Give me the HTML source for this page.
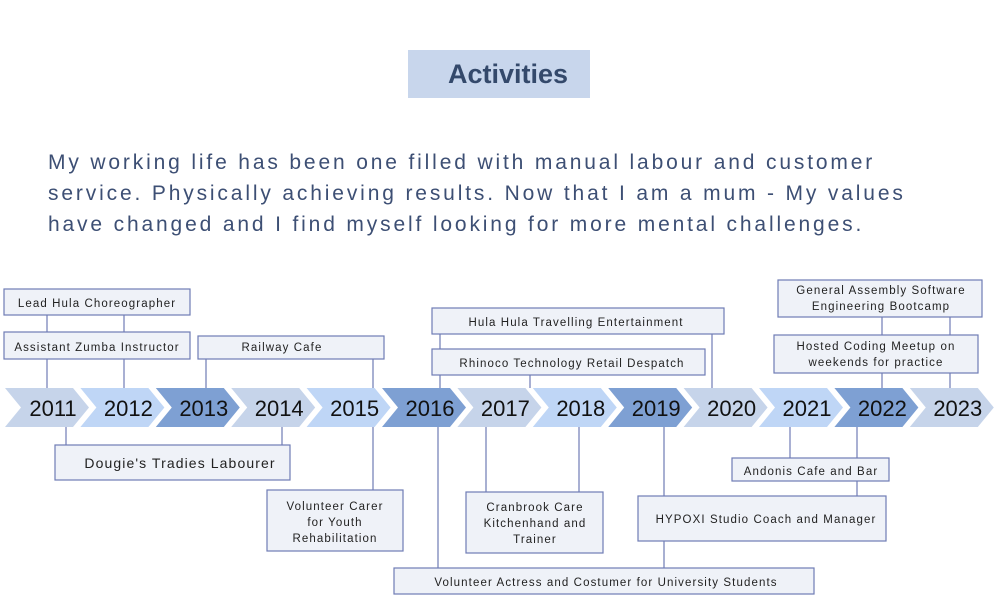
<!DOCTYPE html>
<html><head><meta charset="utf-8"><style>
html,body{margin:0;padding:0;background:#fff;width:1000px;height:600px;overflow:hidden}
svg{display:block}
.b{fill:#eff2f8;stroke:#6f7cb5;stroke-width:1.2}
.l{stroke:#6f7cb5;stroke-width:1.2}
.t{font-family:"Liberation Sans",sans-serif;font-size:11.5px;letter-spacing:1.1px;fill:#222;text-anchor:middle}
.y{font-family:"Liberation Sans",sans-serif;font-size:22px;fill:#111;text-anchor:middle}
.p{font-family:"Liberation Sans",sans-serif;font-size:21px;letter-spacing:2.85px;fill:#3d4f74}
</style></head><body>
<svg width="1000" height="600" viewBox="0 0 1000 600">
<rect x="408" y="50" width="182" height="48" fill="#c8d6ec"/>
<text x="508" y="83" font-family="Liberation Sans,sans-serif" font-size="27" font-weight="bold" fill="#34496b" text-anchor="middle">Activities</text>
<text class="p" x="48" y="169">My working life has been one filled with manual labour and customer</text>
<text class="p" x="48" y="200">service. Physically achieving results. Now that I am a mum - My values</text>
<text class="p" x="48" y="231">have changed and I find myself looking for more mental challenges.</text>

<g class="l">
<line x1="47" y1="315" x2="47" y2="388"/><line x1="124" y1="315" x2="124" y2="388"/>
<line x1="206" y1="336" x2="206" y2="388"/><line x1="373" y1="336" x2="373" y2="490"/>
<line x1="66" y1="427" x2="66" y2="445"/><line x1="282" y1="427" x2="282" y2="445"/>
<line x1="440" y1="334" x2="440" y2="388"/><line x1="712" y1="334" x2="712" y2="388"/>
<line x1="530" y1="375" x2="530" y2="388"/>
<line x1="438" y1="427" x2="438" y2="568"/><line x1="486" y1="427" x2="486" y2="492"/>
<line x1="579" y1="427" x2="579" y2="492"/><line x1="664" y1="427" x2="664" y2="568"/>
<line x1="790" y1="427" x2="790" y2="458"/><line x1="857" y1="427" x2="857" y2="496"/>
<line x1="882" y1="317" x2="882" y2="388"/><line x1="950" y1="317" x2="950" y2="388"/>
</g>

<g id="ch"></g>

<rect class="b" x="4" y="289" width="186" height="26"/><text class="t" x="97" y="307">Lead Hula Choreographer</text>
<rect class="b" x="4" y="332" width="186" height="27"/><text class="t" x="97" y="351">Assistant Zumba Instructor</text>
<rect class="b" x="198" y="336" width="186" height="23"/><text class="t" x="282" y="351">Railway Cafe</text>
<rect class="b" x="55" y="445" width="235" height="35"/><text class="t" x="180" y="468" style="font-size:14px">Dougie's Tradies Labourer</text>
<rect class="b" x="267" y="490" width="136" height="61"/><text class="t" x="335" y="510">Volunteer Carer</text><text class="t" x="335" y="526">for Youth</text><text class="t" x="335" y="542">Rehabilitation</text>
<rect class="b" x="432" y="308" width="292" height="26"/><text class="t" x="576" y="326">Hula Hula Travelling Entertainment</text>
<rect class="b" x="432" y="349" width="273" height="26"/><text class="t" x="572" y="367">Rhinoco Technology Retail Despatch</text>
<rect class="b" x="466" y="492" width="137" height="61"/><text class="t" x="535" y="511">Cranbrook Care</text><text class="t" x="535" y="527">Kitchenhand and</text><text class="t" x="535" y="543">Trainer</text>
<rect class="b" x="394" y="568" width="420" height="26"/><text class="t" x="606" y="586">Volunteer Actress and Costumer for University Students</text>
<rect class="b" x="638" y="496" width="248" height="45"/><text class="t" x="766" y="523">HYPOXI Studio Coach and Manager</text>
<rect class="b" x="732" y="458" width="157" height="23"/><text class="t" x="811" y="475">Andonis Cafe and Bar</text>
<rect class="b" x="778" y="280" width="204" height="37"/><text class="t" x="881" y="294">General Assembly Software</text><text class="t" x="881" y="310">Engineering Bootcamp</text>
<rect class="b" x="774" y="335" width="204" height="38"/><text class="t" x="876" y="350">Hosted Coding Meetup on</text><text class="t" x="876" y="366">weekends for practice</text>
</svg>
<script>
(function(){
var g=document.getElementById('ch'),ns='http://www.w3.org/2000/svg';
var cols=['#c6d4ea','#bfd6f6','#7ea0d3'];
for(var i=0;i<13;i++){
 var x=5+75.4*i,w=84,d=16,c=cols[i%3];
 var p=document.createElementNS(ns,'polygon');
 p.setAttribute('points',[x,388,x+w-d,388,x+w,407.5,x+w-d,427,x,427,x+d,407.5].join(' '));
 p.setAttribute('fill',c);g.appendChild(p);
 var t=document.createElementNS(ns,'text');
 t.setAttribute('x',x+48);t.setAttribute('y',416);t.setAttribute('class','y');
 t.textContent=2011+i;g.appendChild(t);
}
})();
</script>
</body></html>
